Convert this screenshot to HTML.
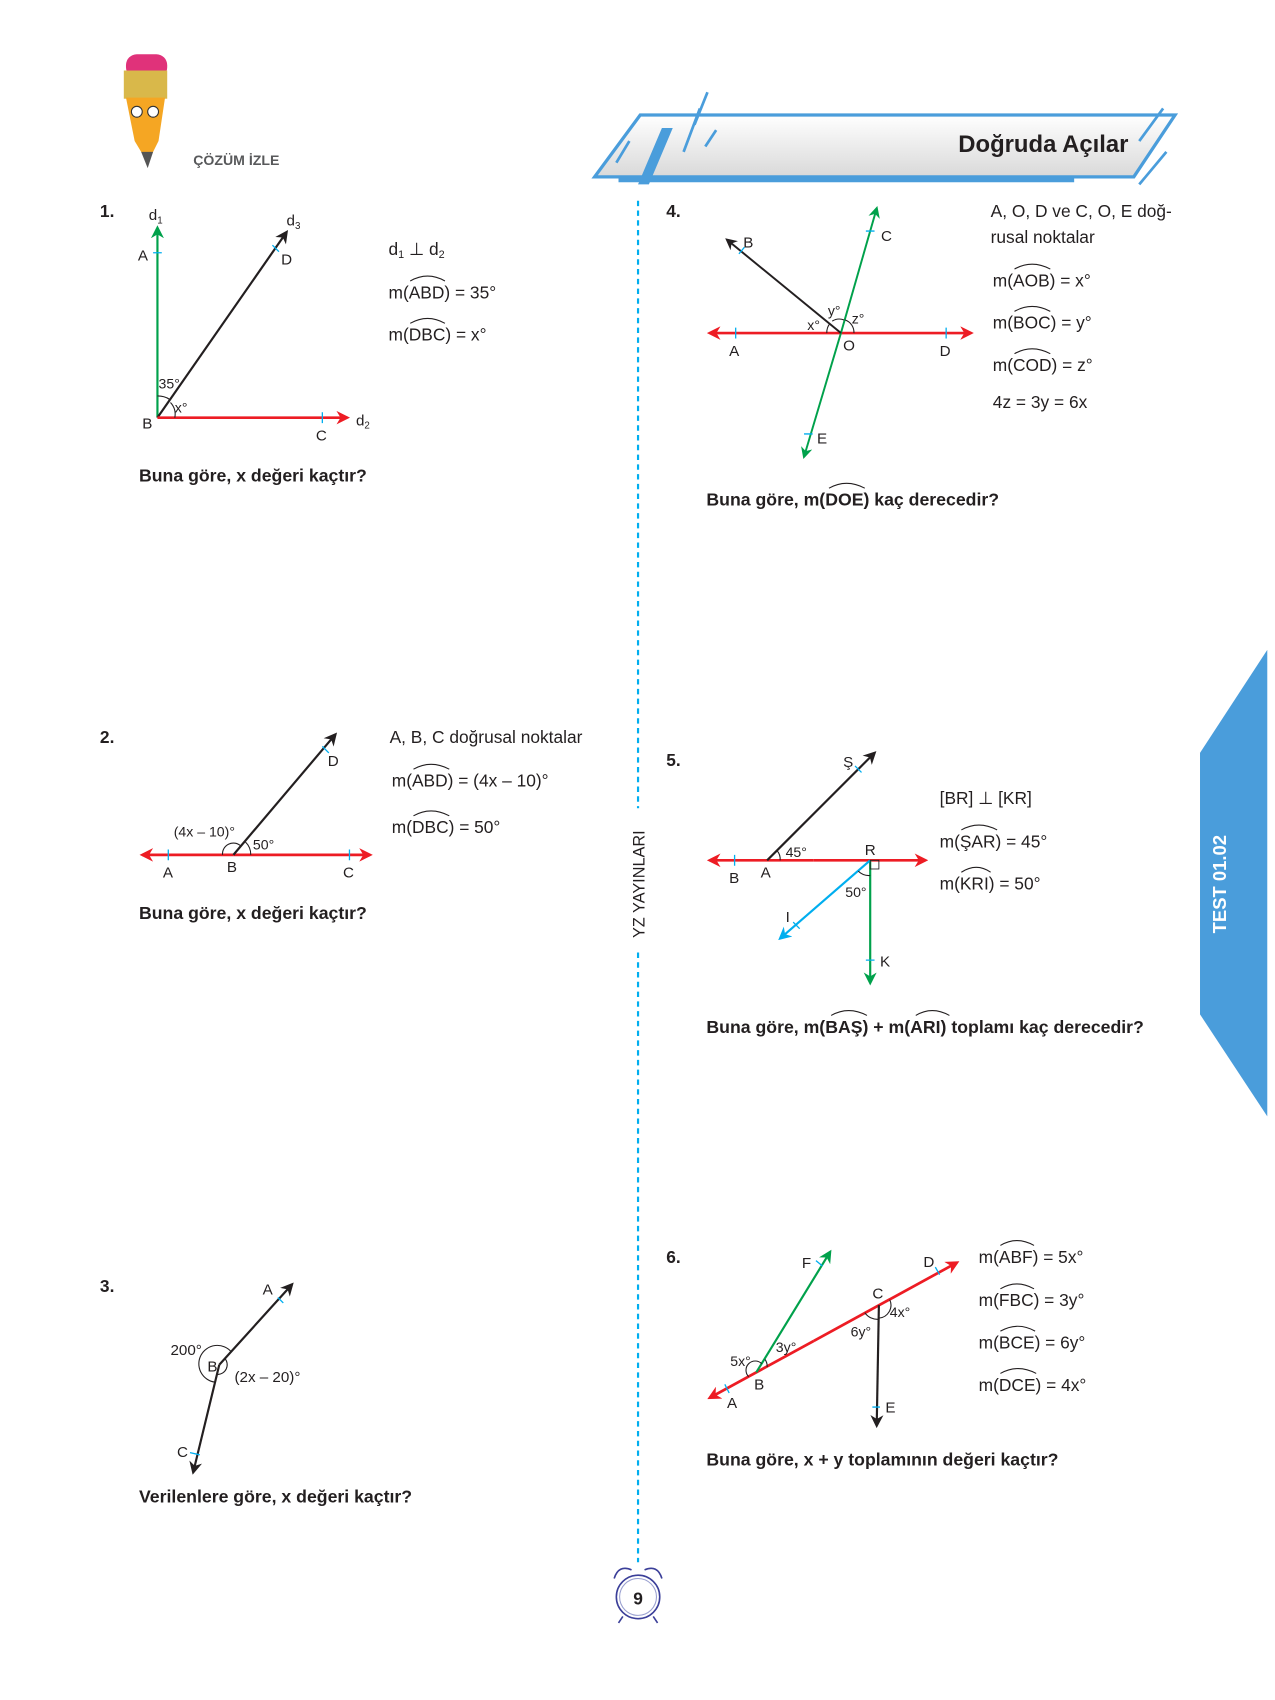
<!DOCTYPE html>
<html><head><meta charset="utf-8"><style>
html,body{margin:0;padding:0;background:#fff}
svg{display:block}
text{font-family:"Liberation Sans",sans-serif;fill:#231f20}
.b{font-weight:bold}
</style></head><body>
<svg width="1275" height="1700" viewBox="0 0 1175 1567" xmlns="http://www.w3.org/2000/svg">
<defs>
<marker id="ar" viewBox="0 0 10 10" refX="8" refY="5" markerWidth="5" markerHeight="5" orient="auto-start-reverse"><path d="M0,0 L10,5 L0,10 L3,5z" fill="#ed1c24"/></marker>
<marker id="ag" viewBox="0 0 10 10" refX="8" refY="5" markerWidth="6" markerHeight="6" orient="auto-start-reverse"><path d="M0,0 L10,5 L0,10 L3,5z" fill="#00a14b"/></marker>
<marker id="ak" viewBox="0 0 10 10" refX="8" refY="5" markerWidth="6" markerHeight="6" orient="auto-start-reverse"><path d="M0,0 L10,5 L0,10 L3,5z" fill="#231f20"/></marker>
<marker id="ab" viewBox="0 0 10 10" refX="8" refY="5" markerWidth="6" markerHeight="6" orient="auto-start-reverse"><path d="M0,0 L10,5 L0,10 L3,5z" fill="#00aeef"/></marker>
<linearGradient id="gb" x1="0" y1="0" x2="0" y2="1"><stop offset="0" stop-color="#fff"/><stop offset="1" stop-color="#d9d9d9"/></linearGradient>
</defs>

<!-- pencil -->
<rect x="116" y="50" width="38" height="22" rx="10" fill="#e0327a"/>
<rect x="114" y="65" width="40" height="26" fill="#d9b84a"/>
<path d="M116,90 L152,90 L146,130 L136,150 L124,130 Z" fill="#f5a623"/>
<circle cx="126" cy="103" r="5" fill="#fff" stroke="#333"/><circle cx="141" cy="103" r="5" fill="#fff" stroke="#333"/>
<path d="M130,140 L136,155 L141,140Z" fill="#555"/>
<text x="178" y="152" font-size="13" class="b" style="fill:#58595b">ÇÖZÜM İZLE</text>

<!-- banner -->
<path d="M548,163 L590,106 L1083,106 L1045,163 Z" fill="url(#gb)" stroke="#4a9ddb" stroke-width="3"/>
<rect x="570" y="162" width="420" height="6" fill="#4a9ddb"/>
<path d="M588,170 L610,118 L620,118 L598,170Z" fill="#4a9ddb"/>
<path d="M630,140 L645,100 M640,115 L652,85 M650,135 L660,120 M1050,130 L1072,100 M1050,170 L1075,140 M568,150 L580,130" stroke="#4a9ddb" stroke-width="2.5"/>
<text x="1040" y="140" font-size="22" class="b" text-anchor="end">Doğruda Açılar</text>

<!-- divider -->
<line x1="588" y1="185" x2="588" y2="1440" stroke="#00aeef" stroke-width="2" stroke-dasharray="5,4"/>
<rect x="578" y="745" width="20" height="130" fill="#fff"/>
<text transform="translate(594,815) rotate(-90)" font-size="15" text-anchor="middle">YZ YAYINLARI</text>
<circle cx="588" cy="1472" r="20" fill="#fff" stroke="#3b3f99" stroke-width="1.5"/>
<circle cx="588" cy="1472" r="17" fill="none" stroke="#9aa0d0" stroke-width="1"/>
<path d="M566,1455 Q570,1442 582,1447 M610,1455 Q606,1442 594,1447 M574,1490 L570,1496 M602,1490 L606,1496" stroke="#3b3f99" fill="none" stroke-width="1.5"/>
<text x="588" y="1479" font-size="16" class="b" text-anchor="middle">9</text>

<!-- right tab -->
<path d="M1168,599 L1106,694 L1106,935 L1168,1029 Z" fill="#4a9ddb"/>
<text transform="translate(1130,815) rotate(-90)" font-size="17" class="b" text-anchor="middle" style="fill:#fff">TEST  01.02</text>

<!-- Q1 -->
<text x="92" y="200" font-size="16" class="b">1.</text>
<line x1="145" y1="385" x2="145" y2="210" stroke="#00a14b" stroke-width="2" marker-end="url(#ag)"/>
<line x1="145" y1="385" x2="264" y2="214" stroke="#231f20" stroke-width="2" marker-end="url(#ak)"/>
<line x1="145" y1="385" x2="320" y2="385" stroke="#ed1c24" stroke-width="2.5" marker-end="url(#ar)"/>
<path d="M141,233 L149,233 M297,380 L297,390 M251,226 L257,232" stroke="#00aeef" stroke-width="1.2"/>
<path d="M145,365 A20,20 0 0 1 156,368 M157,371 A16,16 0 0 1 161,385" stroke="#231f20" fill="none"/>
<text x="137" y="203" font-size="14">d<tspan font-size="9" dy="3">1</tspan></text>
<text x="264" y="208" font-size="14">d<tspan font-size="9" dy="3">3</tspan></text>
<text x="328" y="392" font-size="14">d<tspan font-size="9" dy="3">2</tspan></text>
<text x="127" y="240" font-size="14">A</text>
<text x="259" y="244" font-size="14">D</text>
<text x="131" y="395" font-size="14">B</text>
<text x="291" y="406" font-size="14">C</text>
<text x="146" y="358" font-size="13">35°</text>
<text x="161" y="380" font-size="13">x°</text>
<text x="358" y="235" font-size="16">d<tspan font-size="10" dy="3">1</tspan><tspan dy="-3"> ⊥ d</tspan><tspan font-size="10" dy="3">2</tspan></text>
<text x="358" y="275" font-size="16">m(ABD) = 35°</text>
<text x="358" y="314" font-size="16">m(DBC) = x°</text>
<path d="M378,259 Q394,250 410,259 M378,298 Q394,289 410,298" stroke="#231f20" fill="none"/>
<text x="128" y="444" font-size="16.3" class="b">Buna göre, x değeri kaçtır?</text>

<!-- Q4 -->
<text x="614" y="200" font-size="16" class="b">4.</text>
<line x1="775" y1="307" x2="654" y2="307" stroke="#ed1c24" stroke-width="2.5" marker-end="url(#ar)"/>
<line x1="775" y1="307" x2="895" y2="307" stroke="#ed1c24" stroke-width="2.5" marker-end="url(#ar)"/>
<line x1="775" y1="307" x2="808" y2="192" stroke="#00a14b" stroke-width="1.8" marker-end="url(#ag)"/>
<line x1="775" y1="307" x2="741" y2="421" stroke="#00a14b" stroke-width="1.8" marker-end="url(#ag)"/>
<line x1="775" y1="307" x2="670" y2="221" stroke="#231f20" stroke-width="1.8" marker-end="url(#ak)"/>
<path d="M678,302 L678,312 M872,302 L872,312 M798,213 L806,213 M741,400 L749,400 M681,234 L686,228" stroke="#00aeef" stroke-width="1.2"/>
<path d="M762,307 A13,13 0 0 1 765,298 M767,296 A12,12 0 0 1 778,295 M779,295 A12,12 0 0 1 787,307" stroke="#231f20" fill="none"/>
<text x="685" y="228" font-size="14">B</text>
<text x="812" y="222" font-size="14">C</text>
<text x="672" y="328" font-size="14">A</text>
<text x="777" y="323" font-size="14">O</text>
<text x="866" y="328" font-size="14">D</text>
<text x="753" y="409" font-size="14">E</text>
<text x="744" y="304" font-size="13">x°</text>
<text x="763" y="291" font-size="13">y°</text>
<text x="785" y="298" font-size="13">z°</text>
<text x="913" y="200" font-size="16">A, O, D ve C, O, E doğ-</text>
<text x="913" y="224" font-size="16">rusal noktalar</text>
<text x="915" y="264" font-size="16">m(AOB) = x°</text>
<text x="915" y="303" font-size="16">m(BOC) = y°</text>
<text x="915" y="342" font-size="16">m(COD) = z°</text>
<text x="915" y="376" font-size="16">4z = 3y = 6x</text>
<path d="M935,248 Q951,239 968,248 M935,287 Q951,278 968,287 M935,326 Q951,317 968,326" stroke="#231f20" fill="none"/>
<text x="651" y="466" font-size="16.3" class="b">Buna göre, m(DOE) kaç derecedir?</text>
<path d="M764,450 Q780,441 797,450" stroke="#231f20" fill="none"/>

<!-- Q2 -->
<text x="92" y="685" font-size="16" class="b">2.</text>
<line x1="215" y1="788" x2="131" y2="788" stroke="#ed1c24" stroke-width="2.5" marker-end="url(#ar)"/>
<line x1="215" y1="788" x2="341" y2="788" stroke="#ed1c24" stroke-width="2.5" marker-end="url(#ar)"/>
<line x1="215" y1="788" x2="309" y2="677" stroke="#231f20" stroke-width="2" marker-end="url(#ak)"/>
<path d="M155,783 L155,793 M322,783 L322,793 M297,688 L303,694" stroke="#00aeef" stroke-width="1.2"/>
<path d="M205,788 A10,10 0 0 1 222,780 M226,776 A16,16 0 0 1 231,788" stroke="#231f20" fill="none"/>
<text x="302" y="706" font-size="14">D</text>
<text x="150" y="809" font-size="14">A</text>
<text x="209" y="804" font-size="14">B</text>
<text x="316" y="809" font-size="14">C</text>
<text x="160" y="771" font-size="13">(4x – 10)°</text>
<text x="233" y="783" font-size="13">50°</text>
<text x="359" y="685" font-size="16">A, B, C doğrusal noktalar</text>
<text x="361" y="725" font-size="16">m(ABD) = (4x – 10)°</text>
<text x="361" y="768" font-size="16">m(DBC) = 50°</text>
<path d="M381,709 Q397,700 414,709 M381,752 Q397,743 414,752" stroke="#231f20" fill="none"/>
<text x="128" y="847" font-size="16.3" class="b">Buna göre, x değeri kaçtır?</text>

<!-- Q5 -->
<text x="614" y="706" font-size="16" class="b">5.</text>
<line x1="750" y1="793" x2="654" y2="793" stroke="#ed1c24" stroke-width="2.5" marker-end="url(#ar)"/>
<line x1="750" y1="793" x2="853" y2="793" stroke="#ed1c24" stroke-width="2.5" marker-end="url(#ar)"/>
<line x1="707" y1="793" x2="806" y2="694" stroke="#231f20" stroke-width="2" marker-end="url(#ak)"/>
<line x1="802" y1="793" x2="802" y2="906" stroke="#00a14b" stroke-width="2" marker-end="url(#ag)"/>
<line x1="802" y1="793" x2="719" y2="865" stroke="#00aeef" stroke-width="2" marker-end="url(#ab)"/>
<rect x="802" y="793" width="8" height="8" fill="none" stroke="#231f20" stroke-width="0.8"/>
<path d="M677,788 L677,798 M788,706 L794,712 M798,885 L806,885 M731,850 L737,856" stroke="#00aeef" stroke-width="1.2"/>
<path d="M719,793 A12,12 0 0 0 716,784 M802,807 A14,14 0 0 1 791,803" stroke="#231f20" fill="none"/>
<text x="777" y="707" font-size="14">Ş</text>
<text x="724" y="790" font-size="13">45°</text>
<text x="797" y="788" font-size="14">R</text>
<text x="672" y="814" font-size="14">B</text>
<text x="701" y="809" font-size="14">A</text>
<text x="779" y="827" font-size="13">50°</text>
<text x="724" y="850" font-size="14">I</text>
<text x="811" y="891" font-size="14">K</text>
<text x="866" y="741" font-size="16">[BR] ⊥ [KR]</text>
<text x="866" y="781" font-size="16">m(ŞAR) = 45°</text>
<text x="866" y="820" font-size="16">m(KRI) = 50°</text>
<path d="M886,765 Q902,756 919,765 M886,804 Q900,795 913,804" stroke="#231f20" fill="none"/>
<text x="651" y="952" font-size="16.3" class="b">Buna göre, m(BAŞ) + m(ARI) toplamı kaç derecedir?</text>
<path d="M766,936 Q782,927 799,936 M844,936 Q859,927 875,936" stroke="#231f20" fill="none"/>

<!-- Q3 -->
<text x="92" y="1191" font-size="16" class="b">3.</text>
<line x1="202" y1="1258" x2="269" y2="1184" stroke="#231f20" stroke-width="2" marker-end="url(#ak)"/>
<line x1="202" y1="1258" x2="178" y2="1357" stroke="#231f20" stroke-width="2" marker-end="url(#ak)"/>
<path d="M256,1196 L261,1201 M175,1339 L184,1341" stroke="#00aeef" stroke-width="1.2"/>
<path d="M213,1246 A17,17 0 1 0 198,1274" stroke="#231f20" fill="none"/>
<path d="M207,1252 A9,9 0 0 1 200,1267" stroke="#231f20" fill="none"/>
<text x="242" y="1193" font-size="14">A</text>
<text x="157" y="1249" font-size="14">200°</text>
<text x="191" y="1264" font-size="14">B</text>
<text x="216" y="1274" font-size="14">(2x – 20)°</text>
<text x="163" y="1343" font-size="14">C</text>
<text x="128" y="1385" font-size="16.3" class="b">Verilenlere göre, x değeri kaçtır?</text>

<!-- Q6 -->
<text x="614" y="1164" font-size="16" class="b">6.</text>
<line x1="750" y1="1236" x2="654" y2="1288.5" stroke="#ed1c24" stroke-width="2.5" marker-end="url(#ar)"/>
<line x1="750" y1="1236" x2="882" y2="1163.8" stroke="#ed1c24" stroke-width="2.5" marker-end="url(#ar)"/>
<line x1="697" y1="1265" x2="765" y2="1154" stroke="#00a14b" stroke-width="2" marker-end="url(#ag)"/>
<line x1="810" y1="1203" x2="808" y2="1314" stroke="#231f20" stroke-width="2" marker-end="url(#ak)"/>
<path d="M668,1276 L672,1284 M752,1162 L758,1167 M862,1168 L866,1175 M804,1297 L811,1297" stroke="#00aeef" stroke-width="1.2"/>
<path d="M690,1269 A8,8 0 0 1 702,1257 M705,1253 A11,11 0 0 1 707,1260 M797,1210 A14,14 0 0 0 810,1216 M810,1215 A12,12 0 0 0 820,1198" stroke="#231f20" fill="none"/>
<text x="739" y="1169" font-size="14">F</text>
<text x="851" y="1168" font-size="14">D</text>
<text x="804" y="1197" font-size="14">C</text>
<text x="820" y="1214" font-size="13">4x°</text>
<text x="784" y="1232" font-size="13">6y°</text>
<text x="715" y="1246" font-size="13">3y°</text>
<text x="673" y="1259" font-size="13">5x°</text>
<text x="695" y="1281" font-size="14">B</text>
<text x="670" y="1298" font-size="14">A</text>
<text x="816" y="1302" font-size="14">E</text>
<text x="902" y="1164" font-size="16">m(ABF) = 5x°</text>
<text x="902" y="1204" font-size="16">m(FBC) = 3y°</text>
<text x="902" y="1243" font-size="16">m(BCE) = 6y°</text>
<text x="902" y="1282" font-size="16">m(DCE) = 4x°</text>
<path d="M922,1148 Q937,1139 953,1148 M922,1188 Q937,1179 953,1188 M922,1227 Q938,1218 954,1227 M922,1266 Q938,1257 955,1266" stroke="#231f20" fill="none"/>
<text x="651" y="1351" font-size="16.3" class="b">Buna göre, x + y toplamının değeri kaçtır?</text>
</svg>
</body></html>
